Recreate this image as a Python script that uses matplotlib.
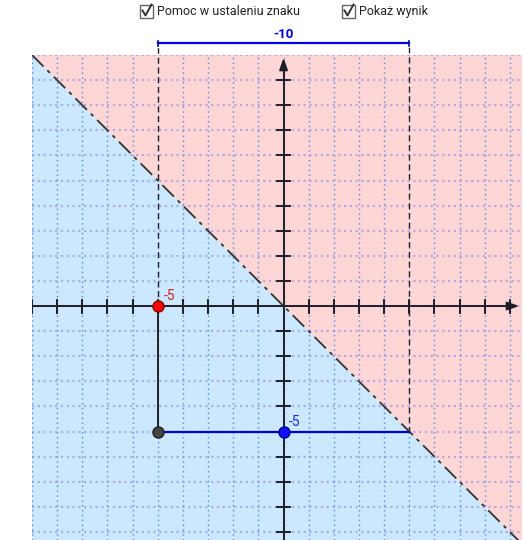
import numpy as np
import matplotlib.pyplot as plt
from matplotlib.patches import Polygon, Rectangle
from matplotlib.lines import Line2D

# chart data
x_range = [-10, 9.48]
y_range = [-9.32, 10]
line_slope = -1                 # boundary line y = -x
point_red = (-5, 0)
point_blue = (0, -5)
point_corner = (-5, -5)
point_end = (5, -5)
label_red = "-5"
label_blue = "-5"
label_diff = "-10"
checkbox_labels = ["Pomoc w ustaleniu znaku", "Pokaż wynik"]

plt.rcParams['font.family'] = ['Roboto', 'DejaVu Sans']

fig = plt.figure(figsize=(5.25, 5.4), dpi=100)
W, H = 525, 540
ax = fig.add_axes([32 / W, 0, 490 / W, 485 / H])
ax.set_xlim(x_range)
ax.set_ylim(y_range)
ax.axis('off')

x0, x1 = x_range
y0, y1 = y_range

# half planes
above = Polygon([(x0, line_slope * x0), (x0, y1), (x1, y1), (x1, line_slope * x1)],
                closed=True, fc='#ffd6d6', ec='none', zorder=0)
below = Polygon([(x0, line_slope * x0), (x1, line_slope * x1), (x1, y0), (x0, y0)],
                closed=True, fc='#cce8ff', ec='none', zorder=0)
ax.add_patch(above)
ax.add_patch(below)

# grid
for gx in range(-10, 10):
    ax.axvline(gx, color='#4a78e0', lw=1, ls=(0, (1, 2.5)), alpha=0.9, zorder=1)
for gy in range(-9, 11):
    ax.axhline(gy, color='#8a8ae6', lw=1.6, ls=(0, (1, 1.6)), alpha=0.6, zorder=1)

# boundary line
xs = np.array([x0, x1])
ax.plot(xs, line_slope * xs, color='#333333', lw=1.3, ls=(0, (9, 3, 2, 3)), zorder=2)

# axes
axis_col = '#1e1e2a'
ax.plot([x0, x1 - 0.3], [0, 0], color=axis_col, lw=1.4, zorder=3)
ax.plot([0, 0], [y0, y1 - 0.4], color=axis_col, lw=1.4, zorder=3)
ax.annotate('', xy=(x1, 0), xytext=(x1 - 0.6, 0),
            arrowprops=dict(arrowstyle='-|>,head_length=0.7,head_width=0.25',
                            color=axis_col, lw=1.4), annotation_clip=False, zorder=3)
ax.annotate('', xy=(0, y1), xytext=(0, y1 - 0.6),
            arrowprops=dict(arrowstyle='-|>,head_length=0.7,head_width=0.25',
                            color=axis_col, lw=1.4), annotation_clip=False, zorder=3)
tk = 0.26
for t in range(-10, 10):
    if t != 0:
        ax.plot([t, t], [-tk, tk], color=axis_col, lw=1.4, zorder=3)
for t in range(-9, 10):
    if t != 0:
        ax.plot([-tk, tk], [t, t], color=axis_col, lw=1.4, zorder=3)

# construction lines
ax.plot([point_red[0], point_corner[0]], [point_red[1], point_corner[1]],
        color='#222222', lw=1.4, zorder=4)
ax.plot([point_corner[0], point_end[0]], [point_corner[1], point_end[1]],
        color='#0000cc', lw=1.6, zorder=4)
top_y = 10.48
ax.plot([point_red[0], point_red[0]], [point_red[1], top_y], color='#222222',
        lw=1, ls=(0, (4, 3)), zorder=4, clip_on=False)
ax.plot([point_end[0], point_end[0]], [point_end[1], top_y], color='#222222',
        lw=1, ls=(0, (4, 3)), zorder=4, clip_on=False)
ax.plot([point_red[0], point_end[0]], [top_y, top_y], color='#0000dd', lw=1.6,
        zorder=4, clip_on=False)
for ex in (point_red[0], point_end[0]):
    ax.plot([ex, ex], [top_y - 0.12, top_y + 0.08], color='#0000aa', lw=1.2,
            zorder=4, clip_on=False)
ax.text((point_red[0] + point_end[0]) / 2, top_y + 0.08, label_diff, color='#0000cc',
        fontsize=9.5, fontweight='bold', ha='center', va='bottom', clip_on=False)

# points
ax.plot(*point_corner, 'o', ms=8, mfc='#444444', mec='#222222', mew=1, zorder=5)
ax.plot(*point_red, 'o', ms=8, mfc='#ff0000', mec='#880000', mew=1, zorder=5)
ax.plot(*point_blue, 'o', ms=8, mfc='#1010ff', mec='#000088', mew=1, zorder=5)
ax.text(point_red[0] + 0.25, point_red[1] + 0.12, label_red, color='#cc2222',
        fontsize=10, ha='left', va='bottom', zorder=6)
ax.text(point_blue[0] + 0.2, point_blue[1] + 0.12, label_blue, color='#2222dd',
        fontsize=10, ha='left', va='bottom', zorder=6)

# checkboxes at the top
box_x = [140, 342]
for bx, lab in zip(box_x, checkbox_labels):
    fig.patches.append(Rectangle((bx / W, (H - 18) / H), 13 / W, 13 / H,
                                 transform=fig.transFigure, fc='white',
                                 ec='#666666', lw=1))
    fig.lines.append(Line2D([(bx + 2.5) / W, (bx + 5.5) / W, (bx + 11.5) / W],
                            [(H - 10.5) / H, (H - 15.5) / H, (H - 4.5) / H],
                            transform=fig.transFigure, color='#333333', lw=1.4))
    fig.text((bx + 17) / W, (H - 11.5) / H, lab, fontsize=9, color='#222222',
             ha='left', va='center')

fig.savefig('out.png', dpi=100)
